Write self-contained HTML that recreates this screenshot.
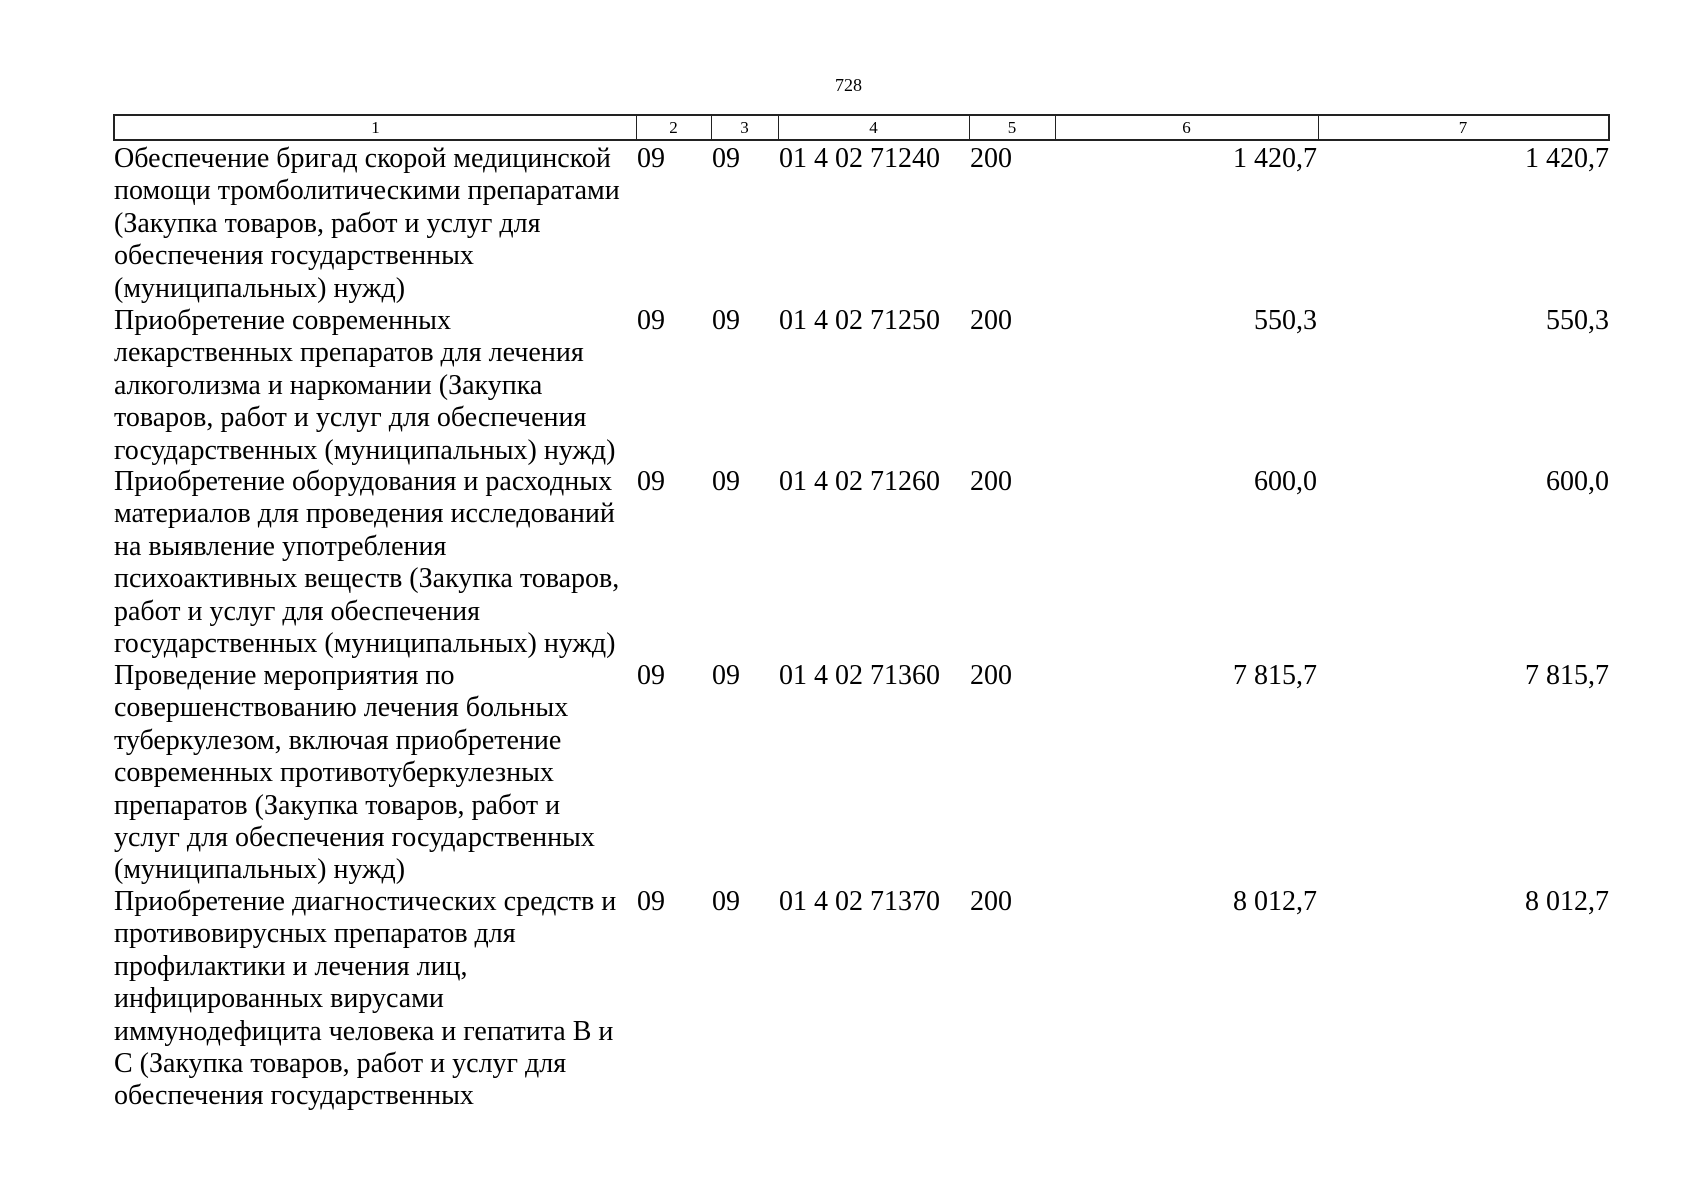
<!DOCTYPE html>
<html><head><meta charset="utf-8"><style>
body{margin:0;width:1698px;height:1200px;background:#fff;position:relative;font-family:"Liberation Serif",serif;color:#000;overflow:hidden}
.a{position:absolute;white-space:nowrap;font-size:28px;line-height:32.4px}
.r{text-align:right}
.hd{position:absolute;top:114px;left:113px;width:1493px;height:23px;border:2px solid #222;}
.v{position:absolute;top:0;bottom:0;border-left:1.5px solid #222}
.h{position:absolute;top:2px;font-size:17px;text-align:center}
</style></head><body>
<div class="a" style="left:835px;top:69px;font-size:18px">728</div>
<div class="hd">
<div class="v" style="left:521px"></div>
<div class="v" style="left:596px"></div>
<div class="v" style="left:663px"></div>
<div class="v" style="left:854px"></div>
<div class="v" style="left:940px"></div>
<div class="v" style="left:1203px"></div>
<div class="h" style="left:0;width:521px">1</div>
<div class="h" style="left:521px;width:75px">2</div>
<div class="h" style="left:596px;width:67px">3</div>
<div class="h" style="left:663px;width:191px">4</div>
<div class="h" style="left:854px;width:86px">5</div>
<div class="h" style="left:940px;width:263px">6</div>
<div class="h" style="left:1203px;width:290px">7</div>
</div>

<div class="a" style="left:114px;top:143px">Обеспечение бригад скорой медицинской<br>помощи тромболитическими препаратами<br>(Закупка товаров, работ и услуг для<br>обеспечения государственных<br>(муниципальных) нужд)</div>
<div class="a" style="left:637px;top:143px">09</div><div class="a" style="left:712px;top:143px">09</div><div class="a" style="left:779px;top:143px">01 4 02 71240</div><div class="a" style="left:970px;top:143px">200</div>
<div class="a r" style="right:381px;top:143px">1 420,7</div><div class="a r" style="right:89px;top:143px">1 420,7</div>

<div class="a" style="left:114px;top:305px">Приобретение современных<br>лекарственных препаратов для лечения<br>алкоголизма и наркомании (Закупка<br>товаров, работ и услуг для обеспечения<br>государственных (муниципальных) нужд)</div>
<div class="a" style="left:637px;top:305px">09</div><div class="a" style="left:712px;top:305px">09</div><div class="a" style="left:779px;top:305px">01 4 02 71250</div><div class="a" style="left:970px;top:305px">200</div>
<div class="a r" style="right:381px;top:305px">550,3</div><div class="a r" style="right:89px;top:305px">550,3</div>

<div class="a" style="left:114px;top:466px">Приобретение оборудования и расходных<br>материалов для проведения исследований<br>на выявление употребления<br>психоактивных веществ (Закупка товаров,<br>работ и услуг для обеспечения<br>государственных (муниципальных) нужд)</div>
<div class="a" style="left:637px;top:466px">09</div><div class="a" style="left:712px;top:466px">09</div><div class="a" style="left:779px;top:466px">01 4 02 71260</div><div class="a" style="left:970px;top:466px">200</div>
<div class="a r" style="right:381px;top:466px">600,0</div><div class="a r" style="right:89px;top:466px">600,0</div>

<div class="a" style="left:114px;top:660px">Проведение мероприятия по<br>совершенствованию лечения больных<br>туберкулезом, включая приобретение<br>современных противотуберкулезных<br>препаратов (Закупка товаров, работ и<br>услуг для обеспечения государственных<br>(муниципальных) нужд)</div>
<div class="a" style="left:637px;top:660px">09</div><div class="a" style="left:712px;top:660px">09</div><div class="a" style="left:779px;top:660px">01 4 02 71360</div><div class="a" style="left:970px;top:660px">200</div>
<div class="a r" style="right:381px;top:660px">7 815,7</div><div class="a r" style="right:89px;top:660px">7 815,7</div>

<div class="a" style="left:114px;top:886px">Приобретение диагностических средств и<br>противовирусных препаратов для<br>профилактики и лечения лиц,<br>инфицированных вирусами<br>иммунодефицита человека и гепатита В и<br>С (Закупка товаров, работ и услуг для<br>обеспечения государственных</div>
<div class="a" style="left:637px;top:886px">09</div><div class="a" style="left:712px;top:886px">09</div><div class="a" style="left:779px;top:886px">01 4 02 71370</div><div class="a" style="left:970px;top:886px">200</div>
<div class="a r" style="right:381px;top:886px">8 012,7</div><div class="a r" style="right:89px;top:886px">8 012,7</div>
</body></html>
